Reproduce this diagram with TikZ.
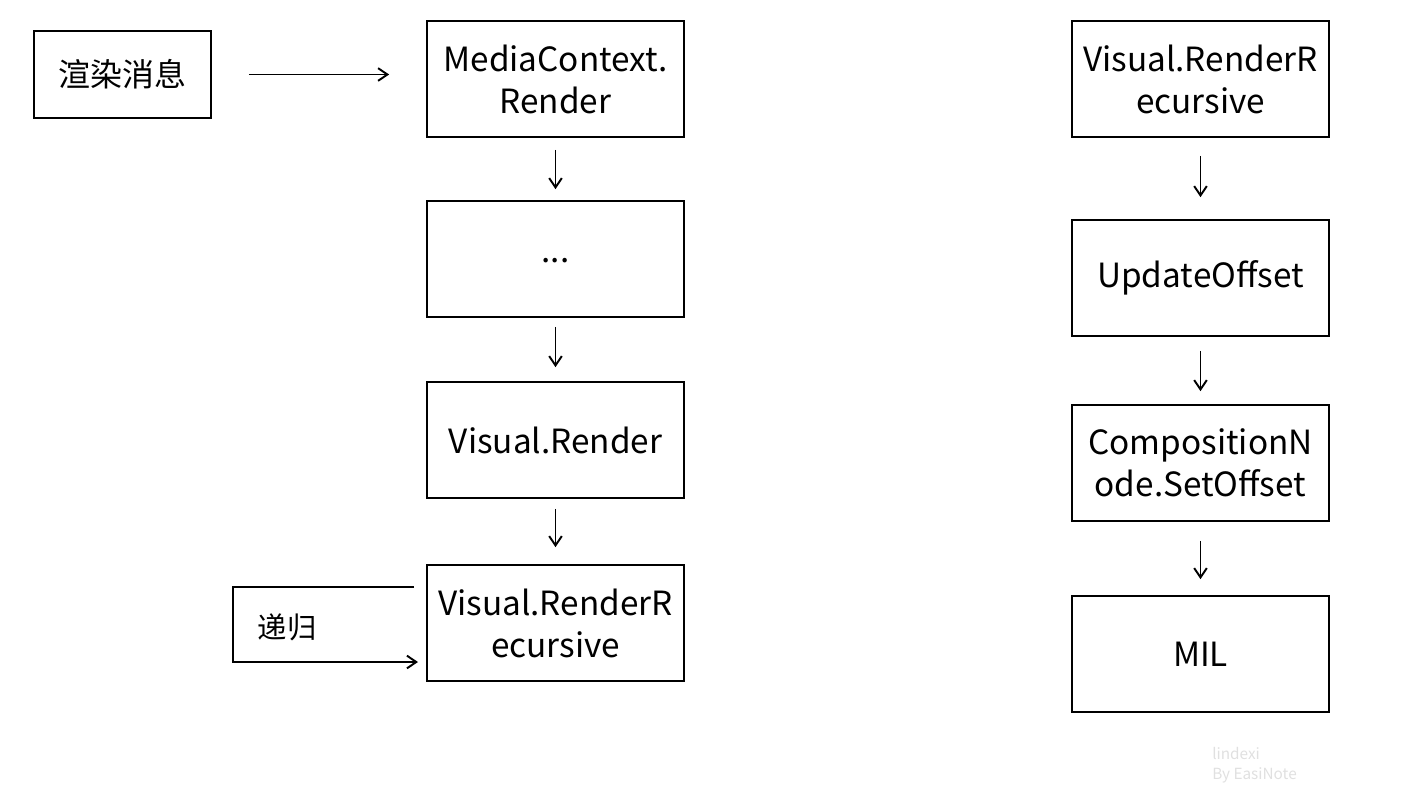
\documentclass[tikz,border=0pt]{standalone}
\usepackage{fontspec}
\setmainfont{Noto Sans CJK SC}
\usetikzlibrary{arrows.meta}

\begin{document}
\begin{tikzpicture}
[x=0.75pt,y=-0.75pt,
  lineDecorate/.style={-{Straight Barb[length=7pt,width=9.5pt]},line width=1.45pt},%
  nodeDecorate/.style={shape=rectangle,draw,line width=1.3pt,minimum width=192.75pt,
    minimum height=87pt,align=center,font=\fontsize{25}{31.5}\selectfont}]
\useasboundingbox (0,0) rectangle (1411,794);
%% nodes or boxes
\node (msg) at (122.5,74.5) [nodeDecorate,minimum width=132.75pt,minimum height=65.25pt,
  font=\fontsize{24}{30}\selectfont] {渲染消息};
\foreach \nodename/\x/\y/\text in {
  mcr/555.5/79/{MediaContext.\\Render}, dots/555.5/259/{\raisebox{-6pt}{...}},
  vr/555.5/440/{Visual.Render}, vrr/555.5/623/{Visual.RenderR\\ecursive},
  rvrr/1200.5/79/{Visual.RenderR\\ecursive}, uo/1200.5/278/{UpdateOffset},
  cn/1200.5/463/{CompositionN\\ode.SetOffset}, mil/1200.5/654/{MIL}}
{
  \node (\nodename) at (\x,\y) [nodeDecorate] {\text};
}
%% edges or lines
\draw[lineDecorate] ([xshift=27.75pt]msg.east) -- ([xshift=-27.75pt]mcr.west |- msg.east);
\foreach \startnode/\endnode/\gapa/\gapb in {
  mcr/dots/9/8.25, dots/vr/6.75/10.5, vr/vrr/7.5/12.75,
  rvrr/uo/13.5/16.5, uo/cn/10.5/9.75, cn/mil/14.25/12}
{
  \draw[lineDecorate] ([yshift=-\gapa pt]\startnode.south) -- ([yshift=\gapb pt]\endnode.north);
}
%% recursion loop
\coordinate (loopin) at (414,587);
\coordinate (loopout) at (418,662);
\draw[lineDecorate] (loopin) -- (233,587) -- (233,662) -- (loopout);
\node (rec) at (287,627) [font=\fontsize{22}{26}\selectfont] {递归};
%% watermark
\node (wm) at (1212,765) [anchor=west,align=left,inner sep=0pt,text=black!12,
  font=\fontsize{11.5}{15}\selectfont] {lindexi\\By EasiNote};
\end{tikzpicture}
\end{document}
